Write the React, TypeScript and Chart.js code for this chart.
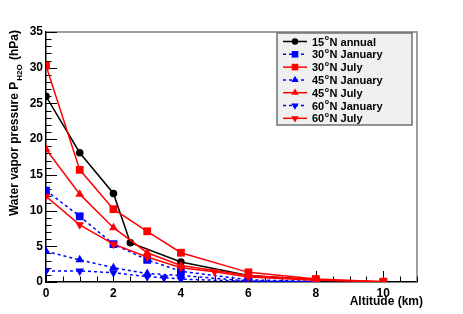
import React, { useEffect, useRef } from "react";
import { Chart, registerables } from "chart.js";

Chart.register(...registerables);

const alt15 = [0, 1, 2, 2.5, 4, 6, 8];
const p15Annual = [26.0, 18.1, 12.4, 5.5, 2.8, 0.9, 0.3];

const alt30Jan = [0, 1, 2, 3, 4, 6, 8];
const p30Jan = [12.8, 9.2, 5.3, 3.1, 1.5, 0.3, 0.1];

const alt30Jul = [0, 1, 2, 3, 4, 6, 8, 10];
const p30Jul = [30.3, 15.7, 10.2, 7.1, 4.1, 1.35, 0.42, 0.05];

const alt45Jan = [0, 1, 2, 3, 4, 6, 8];
const p45Jan = [4.3, 3.1, 2.0, 1.2, 0.9, 0.15, 0.05];

const alt45Jul = [0, 1, 2, 3, 4, 6, 8, 10];
const p45Jul = [18.6, 12.3, 7.6, 4.1, 2.3, 0.9, 0.3, 0.05];

const alt60Jan = [0, 1, 2, 3, 3.5, 4, 6, 8];
const p60Jan = [1.55, 1.55, 1.3, 0.75, 0.6, 0.4, 0.1, 0.03];

const alt60Jul = [0, 1, 2, 3, 4, 5, 6, 8, 10];
const p60Jul = [12.0, 8.0, 5.3, 3.5, 2.0, 1.45, 0.7, 0.25, 0.05];

const latitudes = ["15", "30", "30", "45", "45", "60", "60"];
const seasonLabels = ["N annual", "N January", "N July", "N January", "N July", "N January", "N July"];

const yTicks = [0, 5, 10, 15, 20, 25, 30, 35];
const xTickLabels = [0, 2, 4, 6, 8, 10];

const FONT = "'Liberation Sans', Arial, Helvetica, sans-serif";
const RED = "#ff0000";
const BLUE = "#0000ff";
const BLACK = "#000000";

type Style = { color: string; dash: number[]; marker: string; rot: number; radius: number };
const styles: Style[] = [
  { color: BLACK, dash: [], marker: "circle", rot: 0, radius: 3.8 },
  { color: BLUE, dash: [3, 3], marker: "rect", rot: 0, radius: 5.5 },
  { color: RED, dash: [], marker: "rect", rot: 0, radius: 5.5 },
  { color: BLUE, dash: [3, 3], marker: "triangle", rot: 0, radius: 5 },
  { color: RED, dash: [], marker: "triangle", rot: 0, radius: 5 },
  { color: BLUE, dash: [3, 3], marker: "triangle", rot: 180, radius: 5 },
  { color: RED, dash: [], marker: "triangle", rot: 180, radius: 5 },
];

function pts(xs: number[], ys: number[]) {
  return xs.map((x, i) => ({ x, y: ys[i] }));
}

function drawMarker(ctx: CanvasRenderingContext2D, s: Style, x: number, y: number) {
  ctx.save();
  ctx.fillStyle = s.color;
  ctx.beginPath();
  if (s.marker === "circle") {
    ctx.arc(x, y, s.radius, 0, Math.PI * 2);
  } else if (s.marker === "rect") {
    const h = s.radius * Math.SQRT1_2;
    ctx.rect(x - h, y - h, 2 * h, 2 * h);
  } else {
    const r = s.radius;
    const dir = s.rot === 180 ? -1 : 1;
    ctx.moveTo(x, y - dir * r);
    ctx.lineTo(x - r * 0.866, y + dir * r * 0.5);
    ctx.lineTo(x + r * 0.866, y + dir * r * 0.5);
    ctx.closePath();
  }
  ctx.fill();
  ctx.restore();
}

const decorPlugin = {
  id: "decor",
  beforeDatasetsDraw(chart: any) {
    const ctx: CanvasRenderingContext2D = chart.ctx;
    const { left, right, top, bottom } = chart.chartArea;
    const xs = chart.scales.x;
    const ys = chart.scales.y;
    ctx.save();
    // frame top/right
    ctx.strokeStyle = "#808080";
    ctx.lineWidth = 1.5;
    ctx.beginPath();
    ctx.moveTo(left, top);
    ctx.lineTo(right, top);
    ctx.lineTo(right, bottom);
    ctx.stroke();
    // ticks
    ctx.strokeStyle = "#000";
    ctx.lineWidth = 1;
    for (let v = 0; v <= 35; v += 1) {
      const py = Math.round(ys.getPixelForValue(v)) + 0.5;
      const len = v % 5 === 0 ? 11 : 5.5;
      ctx.beginPath();
      ctx.moveTo(left, py);
      ctx.lineTo(left + len, py);
      ctx.stroke();
    }
    for (let v = 0; v <= 11; v += 0.5) {
      const px = Math.round(xs.getPixelForValue(v)) + 0.5;
      const len = v % 2 === 0 ? 11 : 5.5;
      ctx.beginPath();
      ctx.moveTo(px, bottom);
      ctx.lineTo(px, bottom - len);
      ctx.stroke();
    }
    ctx.restore();
  },
  afterDraw(chart: any) {
    const ctx: CanvasRenderingContext2D = chart.ctx;
    ctx.save();
    // x title
    ctx.fillStyle = "#000";
    ctx.font = `bold 12px ${FONT}`;
    ctx.textAlign = "right";
    ctx.textBaseline = "middle";
    ctx.fillText("Altitude (km)", 423, 302);

    // y title (rotated, right-aligned at top)
    ctx.save();
    ctx.translate(14, 30);
    ctx.rotate(-Math.PI / 2);
    const main = "Water vapor pressure P";
    const sub = "H2O";
    const tail = " (hPa)";
    ctx.textAlign = "left";
    ctx.textBaseline = "alphabetic";
    ctx.font = `bold 12px ${FONT}`;
    const wMain = ctx.measureText(main).width;
    const wTail = ctx.measureText(tail).width;
    ctx.font = `bold 8px ${FONT}`;
    const wSub = ctx.measureText(sub).width;
    const total = wMain + wSub + wTail + 2;
    let cx = -total;
    const base = 4;
    ctx.font = `bold 12px ${FONT}`;
    ctx.fillText(main, cx, base);
    cx += wMain + 1;
    ctx.font = `bold 8px ${FONT}`;
    ctx.fillText(sub, cx, base + 4);
    cx += wSub + 1;
    ctx.font = `bold 12px ${FONT}`;
    ctx.fillText(tail, cx, base);
    ctx.restore();

    // legend
    const bx = 277, by = 33, bw = 135, bh = 92;
    ctx.fillStyle = "#f0f0f0";
    ctx.fillRect(bx, by, bw, bh);
    ctx.strokeStyle = "#707070";
    ctx.lineWidth = 1.5;
    ctx.strokeRect(bx, by, bw, bh);
    const rowY0 = 41.5;
    const rowH = 12.8;
    for (let i = 0; i < styles.length; i++) {
      const s = styles[i];
      const y = rowY0 + i * rowH;
      ctx.save();
      ctx.strokeStyle = s.color;
      ctx.lineWidth = 1.5;
      ctx.setLineDash(s.dash);
      ctx.beginPath();
      ctx.moveTo(283, y);
      ctx.lineTo(307, y);
      ctx.stroke();
      ctx.restore();
      drawMarker(ctx, { ...s, radius: s.radius * 0.85 }, 295, y);
      ctx.fillStyle = "#000";
      ctx.textBaseline = "middle";
      ctx.textAlign = "left";
      ctx.font = `bold 11px ${FONT}`;
      let tx = 312;
      ctx.fillText(latitudes[i], tx, y + 1);
      tx += ctx.measureText(latitudes[i]).width + 0.5;
      ctx.font = `bold 7px ${FONT}`;
      ctx.fillText("o", tx, y - 3);
      tx += ctx.measureText("o").width + 0.5;
      ctx.font = `bold 11px ${FONT}`;
      ctx.fillText(seasonLabels[i], tx, y + 1);
    }
    ctx.restore();
  },
};

export default function App() {
  const ref = useRef<HTMLCanvasElement | null>(null);
  useEffect(() => {
    if (!ref.current) return;
    const series = [
      pts(alt15, p15Annual),
      pts(alt30Jan, p30Jan),
      pts(alt30Jul, p30Jul),
      pts(alt45Jan, p45Jan),
      pts(alt45Jul, p45Jul),
      pts(alt60Jan, p60Jan),
      pts(alt60Jul, p60Jul),
    ];
    const orders = [6, 5, 0, 4, 3, 2, 1];
    const chart = new Chart(ref.current, {
      type: "line",
      data: {
        datasets: series.map((d, i) => {
          const s = styles[i];
          return {
            label: latitudes[i] + "°" + seasonLabels[i],
            data: d,
            borderColor: s.color,
            backgroundColor: s.color,
            borderWidth: 1.5,
            borderDash: s.dash,
            pointStyle: s.marker as any,
            pointRotation: s.rot,
            pointRadius: s.radius,
            pointBorderWidth: 0,
            pointBackgroundColor: s.color,
            pointBorderColor: s.color,
            tension: 0,
            fill: false,
            order: orders[i],
          } as any;
        }),
      },
      options: {
        animation: false,
        responsive: false,
        maintainAspectRatio: false,
        layout: { padding: { left: 0, right: 46, top: 32, bottom: 0 } },
        plugins: { legend: { display: false }, tooltip: { enabled: false } },
        scales: {
          x: {
            type: "linear",
            min: 0,
            max: 11,
            grid: { display: false, drawTicks: false },
            border: { display: true, color: "#000", width: 1.5 },
            afterFit: (s: any) => { s.height = 32; },
            afterBuildTicks: (s: any) => { s.ticks = xTickLabels.map((v) => ({ value: v })); },
            ticks: {
              padding: 4,
              color: "#000",
              font: { family: FONT, size: 12, weight: "bold" },
              maxRotation: 0,
            },
          },
          y: {
            type: "linear",
            min: 0,
            max: 35,
            grid: { display: false, drawTicks: false },
            border: { display: true, color: "#000", width: 1.5 },
            afterFit: (s: any) => { s.width = 46; },
            afterBuildTicks: (s: any) => { s.ticks = yTicks.map((v) => ({ value: v })); },
            ticks: {
              padding: 3,
              color: "#000",
              font: { family: FONT, size: 12, weight: "bold" },
            },
          },
        },
      },
      plugins: [decorPlugin],
    });
    return () => chart.destroy();
  }, []);
  return (
    <div style={{ position: "fixed", left: 0, top: 0, width: 463, height: 314, background: "#fff" }}>
      <canvas ref={ref} width={463} height={314} style={{ width: 463, height: 314, display: "block" }} />
    </div>
  );
}
